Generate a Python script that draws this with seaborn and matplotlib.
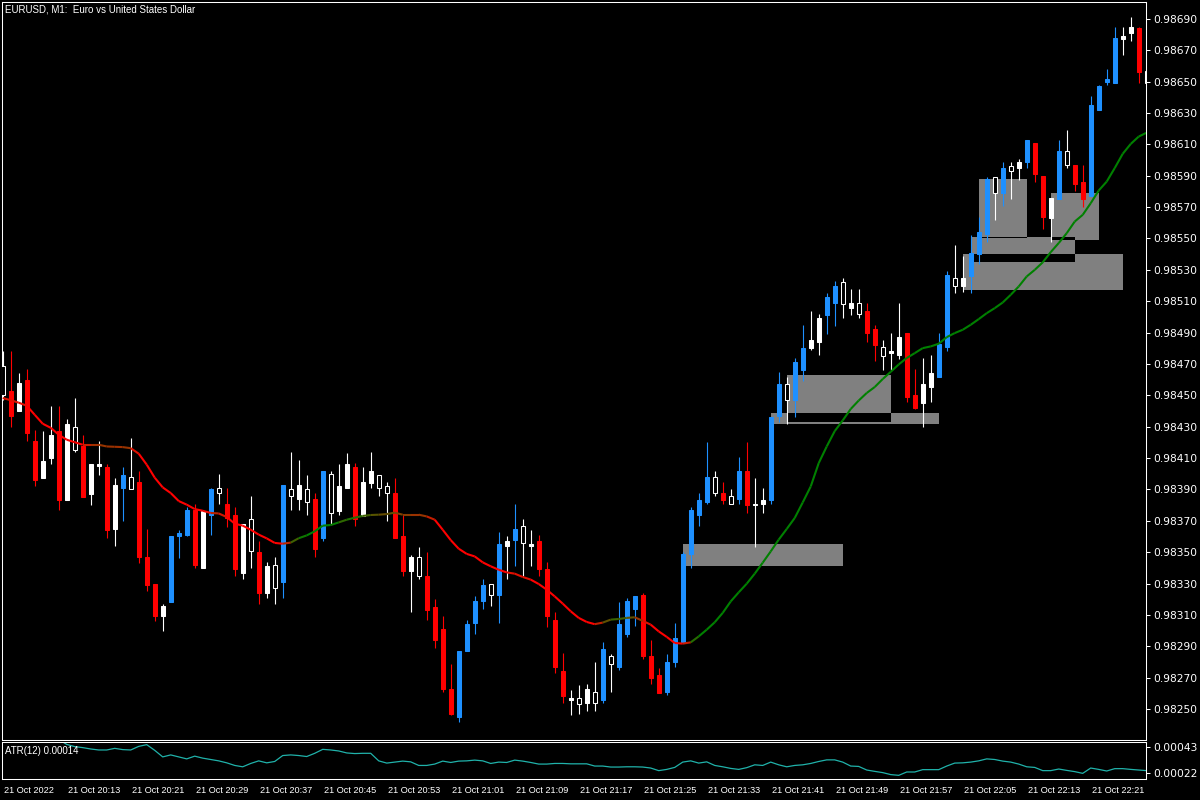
import numpy as np
import pandas as pd
import seaborn as sns
import matplotlib.pyplot as plt
import matplotlib.transforms as mtransforms
from matplotlib.collections import LineCollection
from matplotlib.patches import Rectangle

# EURUSD M1, 21 Oct 2022 20:05 - 22:28 (one entry per bar)
opens = [
    0.98450, 0.98453, 0.98458, 0.98460, 0.98421, 0.98408, 0.98425, 0.98427, 0.98432, 0.98415,
    0.98418, 0.98406, 0.98406, 0.98404, 0.98393, 0.98391, 0.98390, 0.98395, 0.98347, 0.98330,
    0.98316, 0.98318, 0.98360, 0.98361, 0.98377, 0.98376, 0.98374, 0.98388, 0.98381, 0.98374,
    0.98368, 0.98351, 0.98350, 0.98341, 0.98327, 0.98331, 0.98386, 0.98393, 0.98382, 0.98384,
    0.98359, 0.98375, 0.98392, 0.98406, 0.98404, 0.98395, 0.98402, 0.98391, 0.98388, 0.98388,
    0.98360, 0.98347, 0.98335, 0.98335, 0.98315, 0.98301, 0.98263, 0.98245, 0.98287, 0.98305,
    0.98319, 0.98323, 0.98323, 0.98357, 0.98358, 0.98356, 0.98355, 0.98357, 0.98339, 0.98307,
    0.98274, 0.98257, 0.98253, 0.98263, 0.98254, 0.98256, 0.98279, 0.98277, 0.98298, 0.98314,
    0.98323, 0.98284, 0.98272, 0.98261, 0.98280, 0.98293, 0.98349, 0.98374, 0.98382, 0.98388,
    0.98388, 0.98381, 0.98384, 0.98402, 0.98381, 0.98383, 0.98383, 0.98437, 0.98447, 0.98447,
    0.98466, 0.98485, 0.98499, 0.98501, 0.98509, 0.98508, 0.98509, 0.98502, 0.98504, 0.98492,
    0.98475, 0.98478, 0.98487, 0.98490, 0.98450, 0.98457, 0.98464, 0.98462, 0.98481, 0.98520,
    0.98525, 0.98526, 0.98540, 0.98553, 0.98579, 0.98579, 0.98593, 0.98599, 0.98599, 0.98611,
    0.98590, 0.98576, 0.98575, 0.98597, 0.98597, 0.98586, 0.98577, 0.98632, 0.98650, 0.98649,
    0.98679, 0.98685, 0.98684, 0.98649,
]
highs = [
    0.98478, 0.98478, 0.98464, 0.98467, 0.98428, 0.98427, 0.98443, 0.98443, 0.98435, 0.98448,
    0.98425, 0.98406, 0.98421, 0.98406, 0.98397, 0.98404, 0.98423, 0.98402, 0.98365, 0.98330,
    0.98317, 0.98360, 0.98364, 0.98379, 0.98381, 0.98377, 0.98391, 0.98400, 0.98391, 0.98379,
    0.98368, 0.98386, 0.98357, 0.98344, 0.98347, 0.98393, 0.98414, 0.98409, 0.98399, 0.98388,
    0.98402, 0.98402, 0.98406, 0.98413, 0.98407, 0.98404, 0.98414, 0.98399, 0.98395, 0.98397,
    0.98374, 0.98348, 0.98353, 0.98350, 0.98320, 0.98309, 0.98279, 0.98287, 0.98307, 0.98322,
    0.98333, 0.98330, 0.98363, 0.98360, 0.98381, 0.98371, 0.98364, 0.98361, 0.98344, 0.98312,
    0.98286, 0.98262, 0.98265, 0.98266, 0.98280, 0.98293, 0.98285, 0.98318, 0.98321, 0.98322,
    0.98324, 0.98294, 0.98276, 0.98285, 0.98305, 0.98350, 0.98379, 0.98388, 0.98420, 0.98402,
    0.98395, 0.98390, 0.98411, 0.98420, 0.98397, 0.98391, 0.98436, 0.98465, 0.98462, 0.98474,
    0.98495, 0.98504, 0.98502, 0.98515, 0.98523, 0.98525, 0.98518, 0.98518, 0.98509, 0.98495,
    0.98485, 0.98490, 0.98509, 0.98490, 0.98467, 0.98474, 0.98476, 0.98490, 0.98529, 0.98546,
    0.98539, 0.98552, 0.98564, 0.98589, 0.98589, 0.98599, 0.98599, 0.98601, 0.98613, 0.98611,
    0.98590, 0.98576, 0.98613, 0.98619, 0.98597, 0.98597, 0.98641, 0.98648, 0.98658, 0.98685,
    0.98685, 0.98691, 0.98685, 0.98659,
]
lows = [
    0.98447, 0.98430, 0.98440, 0.98421, 0.98392, 0.98397, 0.98406, 0.98377, 0.98383, 0.98414,
    0.98385, 0.98380, 0.98399, 0.98359, 0.98354, 0.98370, 0.98390, 0.98343, 0.98325, 0.98306,
    0.98300, 0.98318, 0.98346, 0.98360, 0.98340, 0.98340, 0.98361, 0.98381, 0.98366, 0.98335,
    0.98333, 0.98340, 0.98317, 0.98321, 0.98317, 0.98321, 0.98377, 0.98377, 0.98374, 0.98347,
    0.98357, 0.98368, 0.98374, 0.98391, 0.98367, 0.98373, 0.98391, 0.98386, 0.98370, 0.98359,
    0.98335, 0.98312, 0.98333, 0.98307, 0.98289, 0.98261, 0.98246, 0.98242, 0.98287, 0.98298,
    0.98314, 0.98316, 0.98305, 0.98333, 0.98341, 0.98335, 0.98341, 0.98335, 0.98302, 0.98273,
    0.98254, 0.98246, 0.98247, 0.98249, 0.98249, 0.98254, 0.98261, 0.98275, 0.98296, 0.98303,
    0.98282, 0.98266, 0.98260, 0.98259, 0.98277, 0.98293, 0.98340, 0.98367, 0.98381, 0.98386,
    0.98381, 0.98381, 0.98381, 0.98375, 0.98353, 0.98375, 0.98381, 0.98433, 0.98432, 0.98436,
    0.98459, 0.98479, 0.98476, 0.98489, 0.98494, 0.98499, 0.98501, 0.98499, 0.98484, 0.98472,
    0.98466, 0.98466, 0.98473, 0.98446, 0.98441, 0.98430, 0.98446, 0.98462, 0.98478, 0.98515,
    0.98516, 0.98515, 0.98534, 0.98548, 0.98562, 0.98571, 0.98575, 0.98587, 0.98595, 0.98586,
    0.98556, 0.98548, 0.98575, 0.98595, 0.98580, 0.98570, 0.98577, 0.98632, 0.98648, 0.98649,
    0.98667, 0.98676, 0.98649, 0.98637,
]
closes = [
    0.98469, 0.98437, 0.98440, 0.98426, 0.98396, 0.98397, 0.98410, 0.98383, 0.98383, 0.98430,
    0.98385, 0.98387, 0.98405, 0.98364, 0.98365, 0.98399, 0.98398, 0.98347, 0.98329, 0.98309,
    0.98309, 0.98360, 0.98362, 0.98377, 0.98342, 0.98340, 0.98390, 0.98391, 0.98372, 0.98339,
    0.98337, 0.98371, 0.98324, 0.98324, 0.98342, 0.98393, 0.98390, 0.98384, 0.98390, 0.98352,
    0.98402, 0.98400, 0.98376, 0.98391, 0.98371, 0.98373, 0.98394, 0.98399, 0.98392, 0.98359,
    0.98338, 0.98338, 0.98347, 0.98313, 0.98294, 0.98263, 0.98247, 0.98287, 0.98304, 0.98319,
    0.98329, 0.98330, 0.98355, 0.98354, 0.98365, 0.98367, 0.98354, 0.98339, 0.98309, 0.98277,
    0.98258, 0.98256, 0.98257, 0.98254, 0.98261, 0.98288, 0.98284, 0.98304, 0.98319, 0.98322,
    0.98284, 0.98270, 0.98260, 0.98280, 0.98295, 0.98349, 0.98377, 0.98383, 0.98398, 0.98398,
    0.98383, 0.98386, 0.98402, 0.98380, 0.98380, 0.98381, 0.98436, 0.98457, 0.98457, 0.98471,
    0.98480, 0.98480, 0.98484, 0.98513, 0.98520, 0.98522, 0.98506, 0.98509, 0.98490, 0.98482,
    0.98481, 0.98477, 0.98476, 0.98449, 0.98442, 0.98445, 0.98455, 0.98483, 0.98527, 0.98525,
    0.98520, 0.98541, 0.98554, 0.98588, 0.98589, 0.98595, 0.98596, 0.98595, 0.98613, 0.98591,
    0.98564, 0.98563, 0.98606, 0.98606, 0.98585, 0.98575, 0.98635, 0.98647, 0.98652, 0.98678,
    0.98677, 0.98681, 0.98656, 0.98657,
]
# 1 = bar painted by the colour indicator (blue up / red down)
highlight = [
    0, 1, 0, 1, 1, 0, 0, 1, 0, 0,
    1, 0, 0, 1, 0, 1, 0, 1, 1, 1,
    0, 1, 1, 1, 1, 0, 1, 0, 1, 1,
    0, 0, 1, 0, 0, 1, 0, 0, 0, 1,
    1, 0, 0, 0, 1, 0, 0, 0, 0, 1,
    1, 0, 0, 1, 1, 1, 1, 1, 1, 1,
    1, 0, 1, 0, 1, 0, 0, 1, 1, 1,
    1, 0, 0, 0, 0, 1, 0, 1, 1, 1,
    1, 1, 1, 1, 1, 1, 1, 1, 1, 0,
    1, 0, 1, 1, 0, 0, 1, 1, 0, 1,
    1, 0, 0, 1, 1, 0, 0, 0, 1, 1,
    0, 0, 0, 1, 1, 0, 0, 1, 1, 0,
    0, 1, 1, 1, 0, 1, 0, 0, 1, 1,
    1, 0, 1, 0, 1, 1, 1, 1, 1, 1,
    0, 0, 1, 0,
]
moving_avg = [
    0.984483, 0.984469, 0.984453, 0.984434, 0.984376, 0.984319, 0.984293, 0.984249, 0.984217, 0.984201,
    0.984185, 0.984185, 0.984185, 0.984174, 0.984172, 0.984170, 0.984163, 0.984128, 0.984058, 0.983975,
    0.983913, 0.983877, 0.983826, 0.983803, 0.983775, 0.983764, 0.983750, 0.983747, 0.983724, 0.983682,
    0.983669, 0.983643, 0.983612, 0.983588, 0.983559, 0.983554, 0.983561, 0.983589, 0.983607, 0.983633,
    0.983669, 0.983673, 0.983690, 0.983707, 0.983720, 0.983731, 0.983737, 0.983739, 0.983743, 0.983752,
    0.983739, 0.983739, 0.983739, 0.983728, 0.983707, 0.983643, 0.983577, 0.983522, 0.983489, 0.983473,
    0.983435, 0.983410, 0.983388, 0.983371, 0.983363, 0.983342, 0.983325, 0.983297, 0.983261, 0.983218,
    0.983172, 0.983123, 0.983081, 0.983055, 0.983041, 0.983051, 0.983070, 0.983074, 0.983081, 0.983085,
    0.983062, 0.983038, 0.982995, 0.982960, 0.982921, 0.982917, 0.982925, 0.982963, 0.983006, 0.983053,
    0.983113, 0.983186, 0.983244, 0.983299, 0.983363, 0.983433, 0.983505, 0.983580, 0.983648, 0.983718,
    0.983817, 0.983919, 0.984068, 0.984174, 0.984272, 0.984340, 0.984413, 0.984467, 0.984515, 0.984553,
    0.984604, 0.984650, 0.984697, 0.984738, 0.984769, 0.984801, 0.984812, 0.984829, 0.984871, 0.984897,
    0.984918, 0.984950, 0.984986, 0.985024, 0.985056, 0.985092, 0.985141, 0.985194, 0.985258, 0.985300,
    0.985348, 0.985413, 0.985471, 0.985534, 0.985608, 0.985651, 0.985725, 0.985806, 0.985863, 0.985949,
    0.986040, 0.986103, 0.986150, 0.986175,
]
atr = [
    0.000500, 0.000500, 0.000500, 0.000500, 0.000500, 0.000500, 0.000500, 0.000490, 0.000451, 0.000433,
    0.000425, 0.000414, 0.000406, 0.000406, 0.000419, 0.000409, 0.000406, 0.000435, 0.000449, 0.000403,
    0.000350, 0.000366, 0.000350, 0.000334, 0.000356, 0.000340, 0.000329, 0.000318, 0.000302, 0.000281,
    0.000270, 0.000297, 0.000318, 0.000302, 0.000313, 0.000361, 0.000366, 0.000361, 0.000353, 0.000379,
    0.000411, 0.000406, 0.000398, 0.000382, 0.000377, 0.000379, 0.000379, 0.000318, 0.000300, 0.000308,
    0.000316, 0.000310, 0.000281, 0.000281, 0.000292, 0.000316, 0.000305, 0.000316, 0.000318, 0.000324,
    0.000318, 0.000297, 0.000308, 0.000305, 0.000324, 0.000316, 0.000305, 0.000292, 0.000292, 0.000297,
    0.000297, 0.000294, 0.000294, 0.000294, 0.000276, 0.000276, 0.000268, 0.000268, 0.000270, 0.000270,
    0.000268, 0.000260, 0.000239, 0.000249, 0.000265, 0.000308, 0.000318, 0.000300, 0.000310, 0.000281,
    0.000270, 0.000257, 0.000249, 0.000263, 0.000286, 0.000281, 0.000308, 0.000286, 0.000270, 0.000281,
    0.000286, 0.000297, 0.000313, 0.000326, 0.000326, 0.000308, 0.000276, 0.000273, 0.000244, 0.000233,
    0.000223, 0.000207, 0.000201, 0.000228, 0.000228, 0.000247, 0.000247, 0.000247, 0.000276, 0.000300,
    0.000302, 0.000308, 0.000318, 0.000334, 0.000329, 0.000316, 0.000308, 0.000292, 0.000270, 0.000265,
    0.000239, 0.000239, 0.000252, 0.000241, 0.000231, 0.000217, 0.000260, 0.000249, 0.000236, 0.000255,
    0.000255, 0.000249, 0.000244, 0.000239,
]

# supply/demand zones: first bar, last bar, low price, high price
zone_start = [85, 98, 96, 120, 121, 122, 131]
zone_end = [105, 111, 117, 140, 134, 128, 137]
zone_low = [0.98341, 0.98433, 0.98432, 0.98517, 0.98535, 0.98550, 0.98549]
zone_high = [0.98355, 0.98463, 0.98439, 0.98540, 0.98551, 0.98588, 0.98579]

time_labels = ['21 Oct 2022', '21 Oct 20:13', '21 Oct 20:21', '21 Oct 20:29', '21 Oct 20:37',
               '21 Oct 20:45', '21 Oct 20:53', '21 Oct 21:01', '21 Oct 21:09', '21 Oct 21:17',
               '21 Oct 21:25', '21 Oct 21:33', '21 Oct 21:41', '21 Oct 21:49', '21 Oct 21:57',
               '21 Oct 22:05', '21 Oct 22:13', '21 Oct 22:21']

df = pd.DataFrame({'open': opens, 'high': highs, 'low': lows, 'close': closes,
                   'mark': highlight, 'ma': moving_avg, 'atr': atr})
df['bar'] = np.arange(len(df))

sns.set_theme(style='dark', rc={
    'figure.facecolor': 'black', 'axes.facecolor': 'black', 'axes.edgecolor': 'white',
    'axes.linewidth': 0.75, 'text.color': 'white', 'xtick.color': 'white', 'ytick.color': 'white',
    'axes.grid': False,
})
plt.rcParams['font.family'] = ['Liberation Sans', 'DejaVu Sans']

W, H = 1200, 800
fig = plt.figure(figsize=(12, 8), dpi=100)
ax = fig.add_axes([2 / W, 1 - 739.6 / H, 1144 / W, 737.3 / H])
ax_atr = fig.add_axes([2 / W, 1 - 778.8 / H, 1144 / W, 36.5 / H])

# zones (overlaps knocked out in black, like the terminal draws them)
for s, e, lo, hi in zip(zone_start, zone_end, zone_low, zone_high):
    ax.add_patch(Rectangle((s, lo), e - s, hi - lo, facecolor='#808080', edgecolor='none',
                           antialiased=False, zorder=1))
n_z = len(zone_start)
for a in range(n_z):
    for b in range(a + 1, n_z):
        x0 = max(zone_start[a], zone_start[b]); x1 = min(zone_end[a], zone_end[b])
        y0 = max(zone_low[a], zone_low[b]); y1 = min(zone_high[a], zone_high[b])
        if x1 > x0 and y1 > y0:
            ax.add_patch(Rectangle((x0, y0), x1 - x0, y1 - y0, facecolor='black',
                                   edgecolor='none', antialiased=False, zorder=1.5))

# candles
up = df['close'] >= df['open']
colour = np.where(df['mark'] == 1, np.where(up, '#1e90ff', '#ff0000'), '#ffffff')
fill = np.where((df['mark'] == 0) & up, 'black', colour)
body_lo = df[['open', 'close']].min(axis=1)
body_hi = df[['open', 'close']].max(axis=1)
ax.vlines(df['bar'], df['low'], df['high'], colors=colour, linewidth=0.8, zorder=3)
ax.bar(df['bar'], body_hi - body_lo, bottom=body_lo, width=0.55, color=fill,
       edgecolor=colour, linewidth=0.75, zorder=4)

# moving average, coloured by its slope (red falling -> green rising)
pts = np.column_stack([df['bar'], df['ma']])
segs = np.stack([pts[:-1], pts[1:]], axis=1)
slope = pd.Series(np.diff(df['ma']) * 1e5).rolling(3, min_periods=1).mean()
t = np.clip(0.5 + slope / 4.0, 0, 1).values
seg_cols = [(1 - v, 0.5 * v, 0.0) for v in t]
ax.add_collection(LineCollection(segs, colors=seg_cols, linewidths=1.5, zorder=5))

ax.set_xlim(-0.09, 142.91)
ax.set_ylim(0.982305, 0.987006)
ax.yaxis.tick_right()
ax.set_yticks([0.98250 + 0.0002 * k for k in range(23)])
ax.yaxis.set_major_formatter(plt.FormatStrFormatter('%.5f'))
ax.tick_params(axis='y', direction='out', length=3, width=0.75, pad=2, labelsize=7.7,
               right=True, left=False)
ax.tick_params(axis='x', bottom=False, labelbottom=False)
for lab in ax.get_yticklabels():
    lab.set_family(['DejaVu Sans'])
for sp in ax.spines.values():
    sp.set_color('white'); sp.set_linewidth(0.75)

# ATR sub-window
sns.lineplot(x=df['bar'], y=df['atr'], ax=ax_atr, color='#20b2aa', linewidth=0.9)
ax_atr.set_xlim(-0.09, 142.91)
ax_atr.set_ylim(0.000173, 0.000468)
ax_atr.set_xlabel(''); ax_atr.set_ylabel('')
ax_atr.yaxis.tick_right()
ax_atr.set_yticks([0.00022, 0.00043])
ax_atr.yaxis.set_major_formatter(plt.FormatStrFormatter('%.5f'))
ax_atr.tick_params(axis='y', direction='out', length=3, width=0.75, pad=2, labelsize=7.7,
                   right=True, left=False)
for lab in ax_atr.get_yticklabels():
    lab.set_family(['DejaVu Sans'])
ax_atr.set_xticks(np.arange(0, len(df), 8))
ax_atr.set_xticklabels(time_labels)
ax_atr.tick_params(axis='x', direction='out', length=4, width=0.75, pad=1.5, labelsize=6.6)
offset = mtransforms.ScaledTranslation(1 / 72, 0, fig.dpi_scale_trans)
for lab in ax_atr.get_xticklabels():
    lab.set_horizontalalignment('left')
    lab.set_transform(lab.get_transform() + offset)
for sp in ax_atr.spines.values():
    sp.set_color('white'); sp.set_linewidth(0.75)

fig.text(5 / W, 1 - 9 / H, 'EURUSD, M1:  Euro vs United States Dollar', fontsize=7,
         va='center', ha='left', color='white')
fig.text(5 / W, 1 - 751 / H, 'ATR(12) 0.00014', fontsize=7, va='center', ha='left',
         color='white')

fig.savefig('out.png', dpi=100, facecolor='black')
